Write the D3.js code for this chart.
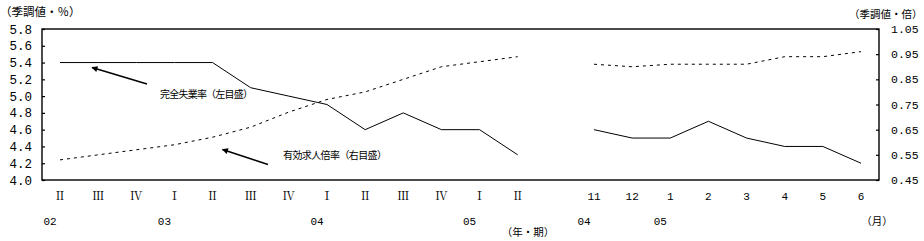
<!DOCTYPE html>
<html><head><meta charset="utf-8">
<script src="https://cdn.jsdelivr.net/npm/d3@7"></script>
<style>
html,body{margin:0;padding:0;background:#fff;}
svg{display:block;}
text{fill:#000;}
</style>
</head><body>
<svg id="c" width="924" height="241"></svg>
<script>
// ---- data ----
const categories = ["Ⅱ","Ⅲ","Ⅳ","Ⅰ","Ⅱ","Ⅲ","Ⅳ","Ⅰ","Ⅱ","Ⅲ","Ⅳ","Ⅰ","Ⅱ","","11","12","1","2","3","4","5","6"];
const yearLabels = ["02","03","04","05","04","05"];
const yearLabelIdx = [0,3,7,11,14,16];
const quarterIdx = [0,1,2,3,4,5,6,7,8,9,10,11,12];
const monthIdx = [14,15,16,17,18,19,20,21];
const unemploymentQ = [5.4,5.4,5.4,5.4,5.4,5.1,5.0,4.9,4.6,4.8,4.6,4.6,4.3];
const unemploymentM = [4.6,4.5,4.5,4.7,4.5,4.4,4.4,4.2];
const ratioQ = [0.53,0.55,0.57,0.59,0.62,0.66,0.72,0.77,0.80,0.85,0.90,0.92,0.94];
const ratioM = [0.91,0.90,0.91,0.91,0.91,0.94,0.94,0.96];
const leftTicks = [4.0,4.2,4.4,4.6,4.8,5.0,5.2,5.4,5.6,5.8];
const rightTicks = [0.45,0.55,0.65,0.75,0.85,0.95,1.05];

// ---- layout ----
const L = 42, R = 879, T = 29, B = 180;
const svg = d3.select("#c");
const x = d3.scaleLinear().domain([0,21]).range([60,861]);
const yL = d3.scaleLinear().domain([4.0,5.8]).range([B,T]);
const yR = d3.scaleLinear().domain([0.45,1.05]).range([B,T]);
const jp = "'Noto Sans CJK JP','Noto Sans CJK SC',sans-serif";
const mono = "'Liberation Mono','DejaVu Sans Mono',monospace";

// frame
svg.append("rect").attr("x",L).attr("y",T).attr("width",R-L).attr("height",B-T)
  .attr("fill","none").attr("stroke","#000").attr("stroke-width",1.4);

// left axis (ticks inside)
const gl = svg.append("g").attr("transform",`translate(${L},0)`)
  .call(d3.axisRight(yL).tickValues(leftTicks).tickSize(3).tickFormat(""));
gl.select(".domain").remove();
gl.selectAll("line").attr("stroke","#000").attr("stroke-width",1.2);
svg.append("g").selectAll("text").data(leftTicks).join("text")
  .attr("x",32).attr("y",d=>yL(d)).attr("dy","0.36em").attr("text-anchor","end")
  .attr("font-family",mono).attr("font-size",12.5)
  .text(d=>d.toFixed(1));

// right axis (ticks inside)
const gr = svg.append("g").attr("transform",`translate(${R},0)`)
  .call(d3.axisLeft(yR).tickValues(rightTicks).tickSize(3).tickFormat(""));
gr.select(".domain").remove();
gr.selectAll("line").attr("stroke","#000").attr("stroke-width",1.2);
svg.append("g").selectAll("text").data(rightTicks).join("text")
  .attr("x",891).attr("y",d=>yR(d)).attr("dy","0.36em").attr("text-anchor","start")
  .attr("font-family",mono).attr("font-size",11.5)
  .text(d=>d.toFixed(2));

// axis titles
svg.append("text").attr("x",0).attr("y",16).attr("font-family",jp).attr("font-size",11.5).text("（季調値・％）");
svg.append("text").attr("x",849).attr("y",18).attr("font-family",jp).attr("font-size",10.5).text("（季調値・倍）");

// category labels
svg.append("g").selectAll("text").data(categories.map((c,i)=>({c,i})).filter(d=>d.c!==""))
  .join("text")
  .attr("x",d=>x(d.i)).attr("y",196).attr("dy","0.36em").attr("text-anchor","middle")
  .attr("font-family",d=>/\d/.test(d.c)?mono:"'Noto Serif CJK JP','Noto Sans CJK JP',serif")
  .attr("font-size",d=>/\d/.test(d.c)?11:12)
  .text(d=>d.c);
svg.append("g").selectAll("text").data(yearLabels.map((c,k)=>({c,i:yearLabelIdx[k]})))
  .join("text")
  .attr("x",d=>x(d.i)-10).attr("y",221).attr("dy","0.36em").attr("text-anchor","middle")
  .attr("font-family",mono).attr("font-size",11)
  .text(d=>d.c);
svg.append("text").attr("x",528).attr("y",232).attr("dy","0.36em").attr("text-anchor","middle")
  .attr("font-family",jp).attr("font-size",10.5).text("（年・期）");
svg.append("text").attr("x",877).attr("y",221).attr("dy","0.36em").attr("text-anchor","middle")
  .attr("font-family",jp).attr("font-size",10.5).text("（月）");

// lines
const lineL = d3.line().x(d=>x(d[0])).y(d=>yL(d[1]));
const lineR = d3.line().x(d=>x(d[0])).y(d=>yR(d[1]));
const segs = [
  {d: quarterIdx.map((i,k)=>[i,unemploymentQ[k]]), f: lineL, dash: null},
  {d: monthIdx.map((i,k)=>[i,unemploymentM[k]]), f: lineL, dash: null},
  {d: quarterIdx.map((i,k)=>[i,ratioQ[k]]), f: lineR, dash: "3,4"},
  {d: monthIdx.map((i,k)=>[i,ratioM[k]]), f: lineR, dash: "3,4"}
];
segs.forEach(s=>{
  svg.append("path").attr("d",s.f(s.d)).attr("fill","none").attr("stroke","#000")
    .attr("stroke-width",1).attr("stroke-dasharray",s.dash);
});

// arrows + annotations
const defs = svg.append("defs");
defs.append("marker").attr("id","ah").attr("viewBox","0 0 10 10").attr("refX",9).attr("refY",5)
  .attr("markerWidth",8).attr("markerHeight",6).attr("markerUnits","userSpaceOnUse").attr("orient","auto")
  .append("path").attr("d","M0,0L10,5L0,10Z").attr("fill","#000");
svg.append("line").attr("x1",147).attr("y1",84).attr("x2",92).attr("y2",67.5)
  .attr("stroke","#000").attr("stroke-width",1.4).attr("marker-end","url(#ah)");
svg.append("line").attr("x1",268).attr("y1",164.5).attr("x2",222.5).attr("y2",149.5)
  .attr("stroke","#000").attr("stroke-width",1.4).attr("marker-end","url(#ah)");
svg.append("text").attr("x",160).attr("y",94).attr("dy","0.36em").attr("font-family",jp)
  .attr("font-size",10).attr("textLength",93).text("完全失業率（左目盛）");
svg.append("text").attr("x",283).attr("y",155).attr("dy","0.36em").attr("font-family",jp)
  .attr("font-size",10).attr("textLength",104).text("有効求人倍率（右目盛）");
</script>
</body></html>
